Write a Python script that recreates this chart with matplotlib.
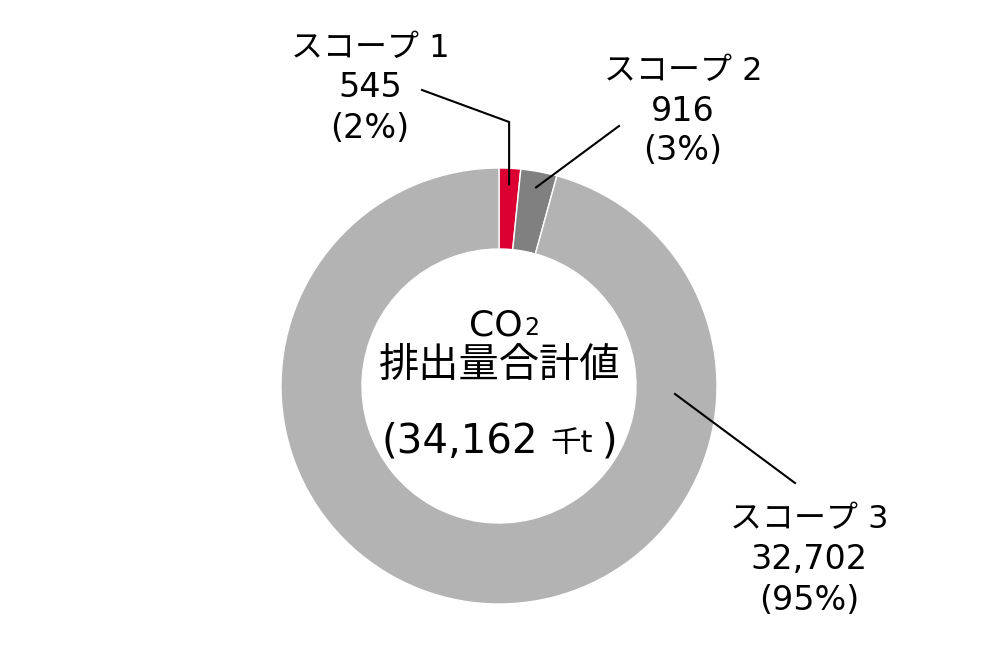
import matplotlib
matplotlib.use('Agg')
import matplotlib.pyplot as plt
import numpy as np

plt.rcParams['font.family'] = ['DejaVu Sans', 'Noto Sans CJK JP']

# data
labels = ['スコープ 1', 'スコープ 2', 'スコープ 3']
values = [545, 916, 32702]
pcts = ['2%', '3%', '95%']
total = 34162
colors = ['#dc0032', '#808080', '#b3b3b3']

H = 650
fig = plt.figure(figsize=(10, 6.5), dpi=100)
ax = fig.add_axes([0, 0, 1, 1])

cx, cy = 499, H - 386
R = 218
ax.pie(values, colors=colors, startangle=90, counterclock=False,
       radius=R, center=(cx, cy), frame=True,
       wedgeprops=dict(width=81, edgecolor='white', linewidth=1))
ax.set_xlim(0, 1000)
ax.set_ylim(0, H)
ax.set_aspect('equal')
ax.axis('off')

# leader line anchors on the ring
ang = 90 - np.cumsum([0] + values[:-1]) / total * 360 - np.array(values) / total * 180
def ring_pt(a, r=202):
    return cx + r * np.cos(np.radians(a)), cy + r * np.sin(np.radians(a))

p1 = ring_pt(ang[0])
p2 = ring_pt(ang[1])
p3 = (675, H - 394)

lk = dict(color='black', lw=1.5)
ax.plot([422, p1[0], p1[0]], [H - 90, H - 122, p1[1]], **lk)
ax.plot([619, p2[0]], [H - 126, p2[1]], **lk)
ax.plot([p3[0], 795], [p3[1], H - 483], **lk)

def label(x, ys, i):
    ax.text(x, H - ys[0], labels[i], ha='center', va='baseline', fontsize=23)
    ax.text(x, H - ys[1], f'{values[i]:,}', ha='center', va='baseline', fontsize=24)
    ax.text(x, H - ys[2], f'({pcts[i]})', ha='center', va='baseline', fontsize=24)

label(370, (57, 97, 138), 0)
label(683, (80, 121, 160), 1)
label(809, (528, 569, 610), 2)

# centre text
ax.text(523, H - 335, 'CO', ha='right', va='baseline', fontsize=26)
ax.text(524, H - 335, '2', ha='left', va='baseline', fontsize=17)
ax.text(cx + 1, H - 377, '排出量合計値', ha='center', va='baseline', fontsize=29,
        family=['Noto Sans CJK JP'])
ax.text(538, H - 452, f'({total:,}', ha='right', va='baseline', fontsize=29)
ax.text(550, H - 452, '千t', ha='left', va='baseline', fontsize=22)
ax.text(602, H - 452, ')', ha='left', va='baseline', fontsize=29)

fig.savefig('out.png', dpi=100)
